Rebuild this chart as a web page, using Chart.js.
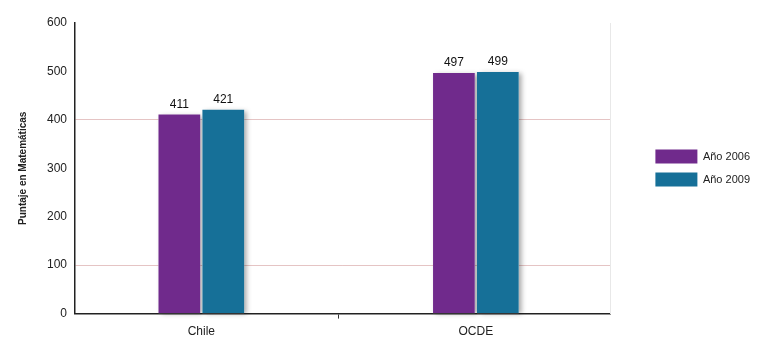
<!DOCTYPE html>
<html>
<head>
<meta charset="utf-8">
<script src="https://cdn.jsdelivr.net/npm/chart.js@4"></script>
<style>
  html, body { margin: 0; padding: 0; background: #fff; }
  #wrap { width: 763px; height: 341px; }
</style>
</head>
<body>
<div id="wrap"><canvas id="chart-div"></canvas></div>
<script>
const categories = ['Chile', 'OCDE'];
const year2006 = [411, 497];
const year2009 = [421, 499];
const seriesNames = ['Año 2006', 'Año 2009'];
const yTicks = [0, 100, 200, 300, 400, 500, 600];

const purple = 'rgb(112, 42, 140)';
const teal = 'rgb(22, 112, 152)';
const font = '"Liberation Sans", Arial, sans-serif';

// value labels above the bars
const barLabels = {
  id: 'barLabels',
  afterDatasetsDraw(chart) {
    const ctx = chart.ctx;
    ctx.save();
    ctx.font = '12px ' + font;
    ctx.fillStyle = '#111';
    ctx.textAlign = 'center';
    ctx.textBaseline = 'bottom';
    chart.data.datasets.forEach((ds, i) => {
      chart.getDatasetMeta(i).data.forEach((bar, j) => {
        ctx.fillText(ds.data[j], bar.x, bar.y - 4);
      });
    });
    ctx.restore();
  }
};

// soft shadow to the right of each bar
const barShadow = {
  id: 'barShadow',
  beforeDatasetsDraw(chart) {
    const ctx = chart.ctx;
    ctx.save();
    chart.data.datasets.forEach((ds, i) => {
      chart.getDatasetMeta(i).data.forEach(bar => {
        const w = bar.width;
        ctx.shadowColor = 'rgba(0,0,0,0.35)';
        ctx.shadowBlur = 5;
        ctx.shadowOffsetX = 3;
        ctx.shadowOffsetY = 1;
        ctx.fillStyle = '#fff';
        ctx.fillRect(bar.x - w / 2, bar.y, w, bar.base - bar.y);
      });
    });
    ctx.restore();
  }
};

// the original puts the groups a bit left of the half-way points
const shiftGroups = {
  id: 'shiftGroups',
  beforeDatasetsUpdate(chart) {
    const x = chart.scales.x;
    x._startValue = -0.46;
    x._valueRange = 1.95;
  }
};

// lift the legend a little above the vertical centre
const legendShift = {
  id: 'legendShift',
  afterLayout(chart) {
    chart.legend.top -= 16;
    chart.legend.bottom -= 16;
  }
};

new Chart(document.getElementById('chart-div'), {
  type: 'bar',
  data: {
    labels: categories,
    datasets: [
      { label: seriesNames[0], data: year2006, backgroundColor: purple },
      { label: seriesNames[1], data: year2009, backgroundColor: teal }
    ]
  },
  options: {
    responsive: true,
    maintainAspectRatio: false,
    animation: false,
    categoryPercentage: 0.32,
    barPercentage: 0.95,
    layout: { padding: { top: 23, right: 3, left: 13, bottom: -4 } },
    plugins: {
      legend: {
        position: 'right',
        labels: {
          boxWidth: 42,
          boxHeight: 14,
          padding: 9,
          color: '#222',
          font: { family: font, size: 11 }
        }
      },
      tooltip: { enabled: false }
    },
    scales: {
      x: {
        border: { color: '#222', width: 1.5 },
        grid: {
          offset: true,
          drawOnChartArea: false,
          tickLength: 5,
          color: ctx => (ctx.index === 1 ? '#333' : 'rgba(0,0,0,0)')
        },
        ticks: {
          color: '#222',
          padding: 6,
          font: { family: font, size: 12 }
        }
      },
      y: {
        min: 0,
        max: 600,
        afterBuildTicks: axis => { axis.ticks = yTicks.map(v => ({ value: v })); },
        border: { color: '#222', width: 1.5 },
        grid: {
          drawTicks: false,
          color: ctx => (ctx.tick && (ctx.tick.value === 100 || ctx.tick.value === 400) ? 'rgba(215,165,165,0.65)' : 'rgba(0,0,0,0)')
        },
        ticks: {
          color: '#222',
          padding: 8,
          font: { family: font, size: 12 }
        },
        title: {
          display: true,
          text: 'Puntaje en Matemáticas',
          color: '#222',
          padding: { bottom: 10 },
          font: { family: font, size: 10, weight: 'bold' }
        }
      },
      y2: {
        position: 'right',
        min: 0,
        max: 600,
        afterFit: axis => { axis.width = 36; },
        border: { color: '#e8e8e8', width: 1 },
        grid: { drawOnChartArea: false, drawTicks: false },
        ticks: { display: false }
      }
    }
  },
  plugins: [shiftGroups, barShadow, barLabels, legendShift]
});
</script>
</body>
</html>
